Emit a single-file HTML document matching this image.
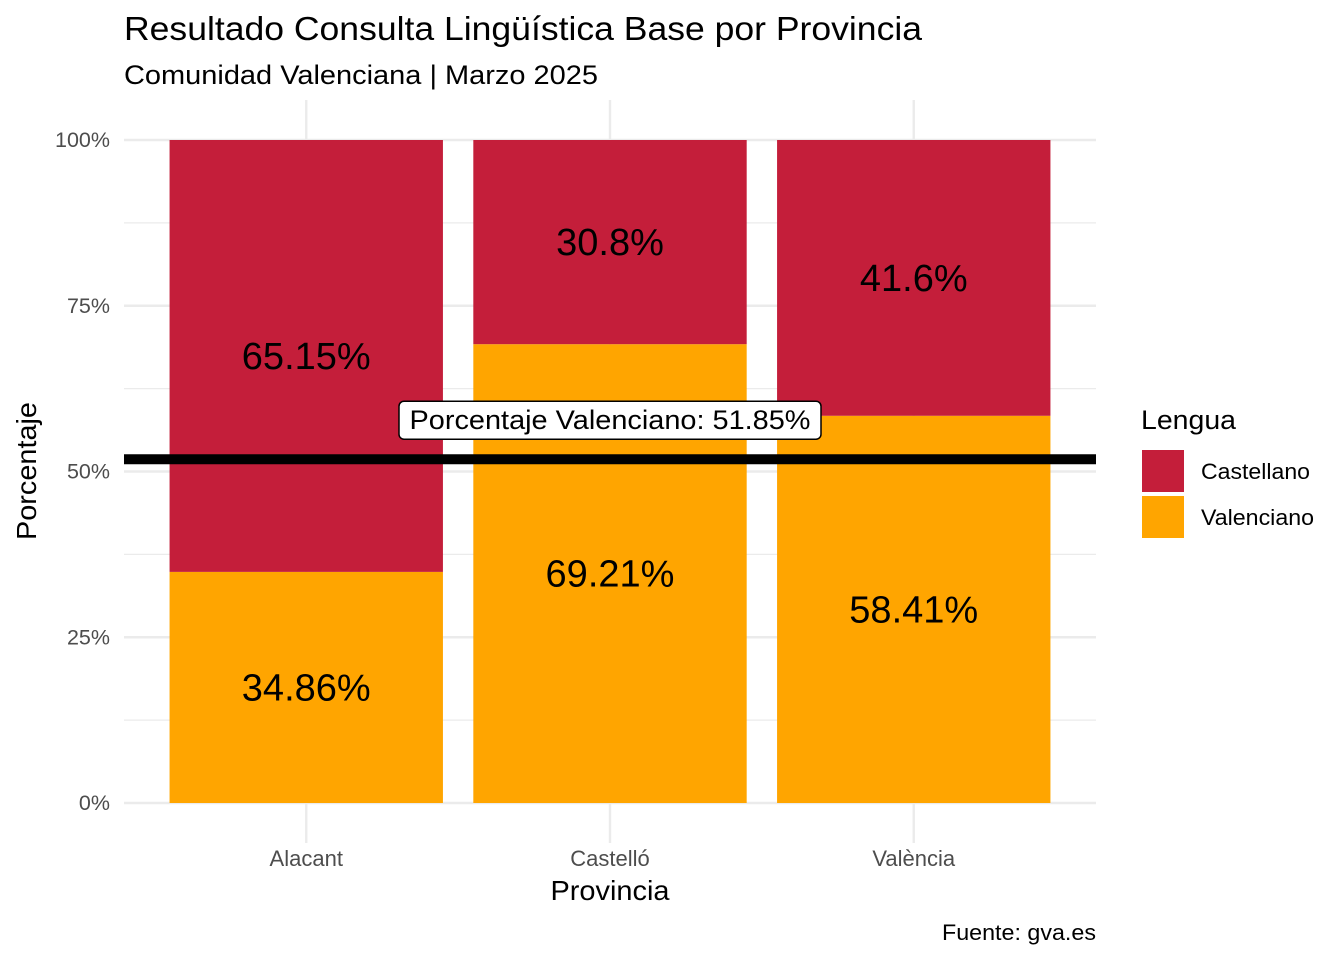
<!DOCTYPE html>
<html><head><meta charset="utf-8"><style>
body{margin:0;background:#fff;}
svg{font-family:"Liberation Sans",Arial,sans-serif;display:block}
</style></head><body>
<svg id="chart" width="1344" height="960" viewBox="0 0 1344 960">
<text x="124" y="40" font-size="33" textLength="798" lengthAdjust="spacingAndGlyphs" fill="#000">Resultado Consulta Lingüística Base por Provincia</text>
<text x="124" y="84" font-size="27" textLength="474" lengthAdjust="spacingAndGlyphs" fill="#000">Comunidad Valenciana | Marzo 2025</text>
<g id="grid"></g>
<g id="bars"></g>
<g id="labels"></g>
<g id="axes"></g>
<text transform="translate(36,471) rotate(-90)" text-anchor="middle" font-size="28" textLength="138" lengthAdjust="spacingAndGlyphs">Porcentaje</text>
<text x="610" y="900" text-anchor="middle" font-size="28" textLength="119" lengthAdjust="spacingAndGlyphs">Provincia</text>
<text x="1096" y="940" text-anchor="end" font-size="22" textLength="154" lengthAdjust="spacingAndGlyphs">Fuente: gva.es</text>
<g>
<text x="1141" y="429" font-size="27" textLength="95" lengthAdjust="spacingAndGlyphs">Lengua</text>
<rect x="1142" y="450" width="42" height="42" fill="#C41E3A"/>
<text x="1201" y="479" font-size="22" textLength="109" lengthAdjust="spacingAndGlyphs">Castellano</text>
<rect x="1142" y="496" width="42" height="42" fill="#FFA500"/>
<text x="1201" y="525" font-size="22" textLength="113" lengthAdjust="spacingAndGlyphs">Valenciano</text>
</g>
</svg>
<script>
const categories=["Alacant","Castelló","València"];
const valenciano=[34.86,69.21,58.41];
const castellano=[65.15,30.8,41.6];
const refValue=51.85;
const yTicks=[0,25,50,75,100];
const NS="http://www.w3.org/2000/svg";
const x0=124,x1=1096,yTop=140,yBot=803;
const n=categories.length;
const step=(x1-x0)/(n-1+1.2);
const xc=i=>(x0+x1)/2+(i-(n-1)/2)*step;
const y=v=>yBot-(v/100)*(yBot-yTop);
const bw=step*0.9;
function mk(tag,attrs,parent,text){const e=document.createElementNS(NS,tag);for(const k in attrs)e.setAttribute(k,attrs[k]);if(text!==undefined)e.textContent=text;document.getElementById(parent).appendChild(e);return e;}
for(let i=0;i<yTicks.length-1;i++){const m=(yTicks[i]+yTicks[i+1])/2;const l=mk('line',{x1:x0,x2:x1,y1:y(m),y2:y(m),stroke:'#ebebeb','stroke-width':1.2},'grid');

}
yTicks.forEach(t=>{const l=mk('line',{x1:x0,x2:x1,y1:y(t),y2:y(t),stroke:'#ebebeb','stroke-width':2.4},'grid');


const tx=mk('text',{x:110,y:y(t)+7,'text-anchor':'end','font-size':21.5,fill:'#4d4d4d'},'axes',t+'%');

});
categories.forEach((c,i)=>{const l=mk('line',{x1:xc(i),x2:xc(i),y1:yTop-40,y2:yBot+40,stroke:'#ebebeb','stroke-width':2.4},'grid');


const tot=valenciano[i]+castellano[i];const v=valenciano[i]/tot*100;
const r1=mk('rect',{x:xc(i)-bw/2,y:y(v),width:bw,height:yBot-y(v),fill:'#FFA500'},'bars');


const r2=mk('rect',{x:xc(i)-bw/2,y:yTop,width:bw,height:y(v)-yTop,fill:'#C41E3A'},'bars');


const t1=mk('text',{x:xc(i),y:y(v/2)+13,'text-anchor':'middle','font-size':38},'labels',valenciano[i]+'%');


const t2=mk('text',{x:xc(i),y:y((v+100)/2)+13,'text-anchor':'middle','font-size':38},'labels',castellano[i]+'%');


const tx=mk('text',{x:xc(i),y:866,'text-anchor':'middle','font-size':22,fill:'#4d4d4d'},'axes',c);

});
const rl=mk('line',{x1:x0,x2:x1,y1:y(refValue),y2:y(refValue),stroke:'#000','stroke-width':10},'labels');


const rb=mk('rect',{x:399,y:y(refValue)-58,width:422,height:38,rx:5,fill:'#fff',stroke:'#000','stroke-width':1.5},'labels');


const rt=mk('text',{x:610,y:y(refValue)-30,'text-anchor':'middle','font-size':27,textLength:401,lengthAdjust:'spacingAndGlyphs'},'labels','Porcentaje Valenciano: '+refValue+'%');


</script>
</body></html>
